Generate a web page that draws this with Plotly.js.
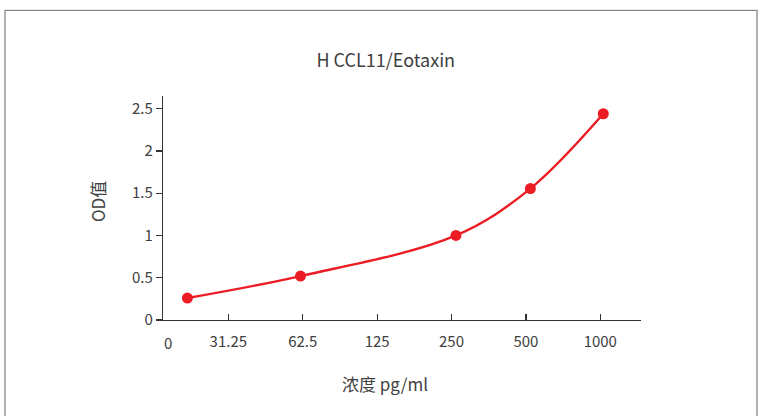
<!DOCTYPE html>
<html>
<head>
<meta charset="utf-8">
<script src="https://cdn.plot.ly/plotly-3.0.1.min.js"></script>
<style>html,body{margin:0;padding:0;background:#fff;}#chart{width:770px;height:416px;}</style>
</head>
<body>
<div id="chart"></div>
<script>
// Category positions along the x axis (evenly spaced slots) and their labels
const xTickPositions = [1, 2, 3, 4, 5, 6];
const xTickLabels = ['31.25', '62.5', '125', '250', '500', '1000'];
const zeroLabelPosition = 0.19;
const zeroLabel = '0';

// Measured points (slot position, OD value)
const pointSlots = [0.45, 1.97, 4.06, 5.06, 6.04];
const odValues = [0.26, 0.52, 1.0, 1.555, 2.44];

const yTickValues = [0, 0.5, 1, 1.5, 2, 2.5];
const yTickLabels = ['0', '0.5', '1', '1.5', '2', '2.5'];

const chartTitle = 'H CCL11/Eotaxin';
const xTitle = '浓度 pg/ml';
const yTitle = 'OD值';

const FONT = '"Noto Sans CJK SC", "Noto Sans", sans-serif';
const RED = '#ec1c24';
const TEXT = '#404040';

const trace = {
  x: pointSlots,
  y: odValues,
  type: 'scatter',
  mode: 'lines+markers',
  line: {color: RED, width: 2.4, shape: 'spline', smoothing: 1},
  marker: {color: RED, size: 11},
  hoverinfo: 'skip'
};

const layout = {
  width: 770,
  height: 416,
  margin: {l: 163, r: 129, t: 96, b: 96},
  paper_bgcolor: '#fff',
  plot_bgcolor: '#fff',
  showlegend: false,
  font: {family: FONT, color: TEXT, size: 15},
  title: {
    text: chartTitle,
    font: {family: FONT, size: 18, color: TEXT},
    x: 0.501, xref: 'container', xanchor: 'center',
    y: 0.853, yref: 'container', yanchor: 'middle'
  },
  xaxis: {
    range: [0.122, 6.547],
    tickmode: 'array',
    tickvals: xTickPositions,
    ticktext: xTickLabels,
    ticks: 'inside',
    ticklen: 6,
    tickwidth: 1.2,
    tickcolor: '#333',
    showline: true,
    linecolor: '#333',
    linewidth: 1.2,
    showgrid: false,
    zeroline: false,
    ticklabelstandoff: 8,
    tickfont: {family: FONT, size: 15, color: TEXT},
    fixedrange: true
  },
  yaxis: {
    range: [0, 2.65],
    tickmode: 'array',
    tickvals: yTickValues,
    ticktext: yTickLabels,
    ticks: 'outside',
    ticklen: 6,
    tickwidth: 1.2,
    tickcolor: '#333',
    showline: true,
    linecolor: '#333',
    linewidth: 1.2,
    showgrid: false,
    zeroline: false,
    tickfont: {family: FONT, size: 15, color: TEXT},
    fixedrange: true
  },
  annotations: [{
    x: zeroLabelPosition, xref: 'x',
    y: 0, yref: 'y',
    text: zeroLabel,
    showarrow: false,
    xanchor: 'center', yanchor: 'middle',
    yshift: -22,
    font: {family: FONT, size: 15, color: TEXT}
  }, {
    x: 0.464, xref: 'paper',
    y: -0.285, yref: 'paper',
    text: xTitle,
    showarrow: false,
    xanchor: 'center', yanchor: 'middle',
    font: {family: FONT, size: 17, color: TEXT}
  }, {
    x: -0.1375, xref: 'paper',
    y: 0.528, yref: 'paper',
    text: yTitle,
    textangle: -90,
    showarrow: false,
    xanchor: 'center', yanchor: 'middle',
    font: {family: FONT, size: 17, color: TEXT}
  }],
  shapes: [{
    type: 'rect', xref: 'paper', yref: 'paper',
    x0: -0.3305, x1: 1.2427, y0: -0.5, y1: 1.382,
    line: {color: '#8a8a8a', width: 1.3},
    layer: 'below'
  }]
};

Plotly.newPlot('chart', [trace], layout, {staticPlot: true, displayModeBar: false});
</script>
</body>
</html>
